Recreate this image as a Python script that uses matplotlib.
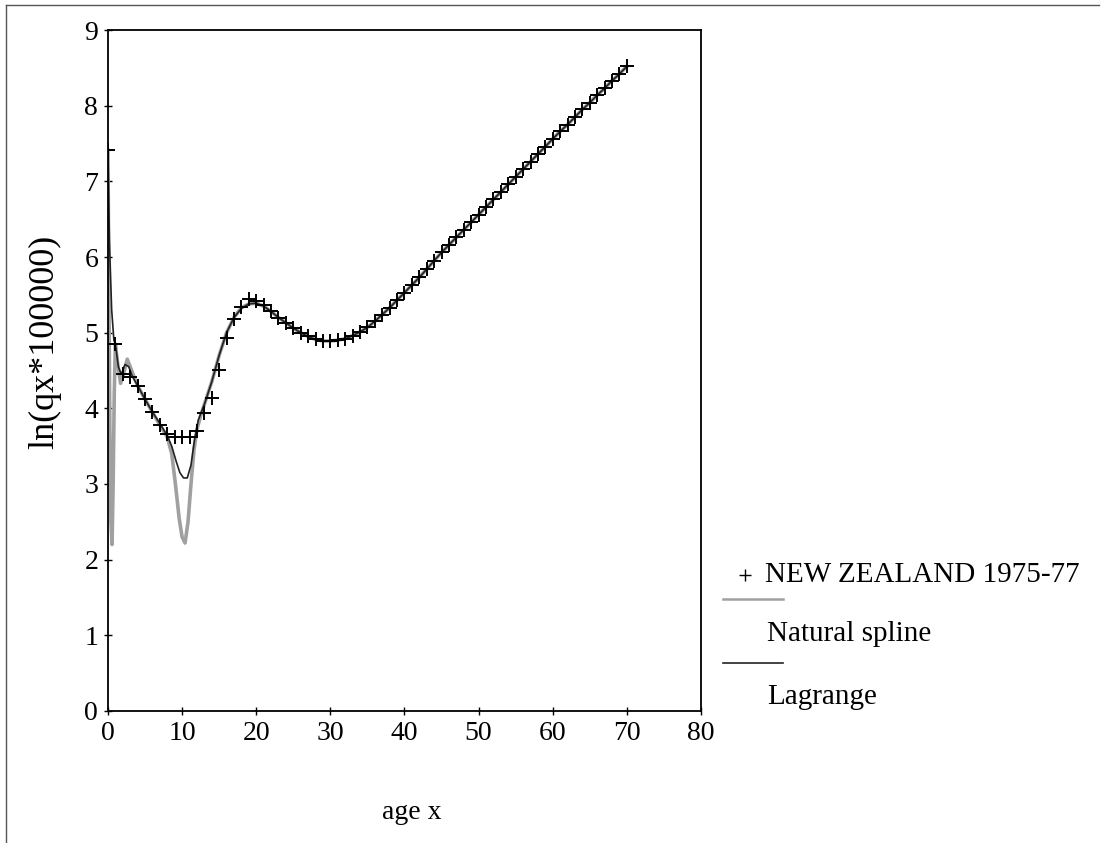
import numpy as np
import matplotlib.pyplot as plt
from matplotlib.lines import Line2D

# log mortality ln(qx*100000), single ages 0-70
ages = list(range(0, 71))
lnq = [7.41, 4.85, 4.45, 4.42, 4.30, 4.12, 3.95, 3.78, 3.66, 3.62,
       3.62, 3.62, 3.70, 3.94, 4.13, 4.50, 4.93, 5.18, 5.34, 5.44,
       5.42, 5.36, 5.28, 5.20, 5.13, 5.06, 5.00, 4.95, 4.91, 4.89,
       4.89, 4.90, 4.92, 4.96, 5.01, 5.07, 5.15, 5.24, 5.33, 5.43,
       5.53, 5.63, 5.73, 5.84, 5.95, 6.06, 6.16, 6.26, 6.36, 6.46,
       6.56, 6.66, 6.76, 6.86, 6.96, 7.06, 7.16, 7.26, 7.36, 7.46,
       7.56, 7.66, 7.75, 7.85, 7.95, 8.04, 8.14, 8.23, 8.33, 8.42,
       8.52]

# fitted curves over the young ages (both follow the data after 22)
spline_age = [0, 0.1, 0.25, 0.4, 0.55, 0.7, 0.85, 1.0, 1.3, 1.7, 2.1, 2.6,
              3.0, 3.5, 4, 5, 6, 7, 8, 8.6, 9.1, 9.6, 10.0, 10.4, 10.8,
              11.2, 11.6, 12.0, 12.5, 13, 14, 15, 16, 17, 18, 19, 20, 21]
spline_val = [7.41, 5.9, 3.8, 2.5, 2.2, 3.0, 4.2, 4.85, 4.6, 4.33, 4.45,
              4.65, 4.55, 4.42, 4.30, 4.12, 3.95, 3.78, 3.62, 3.40, 3.00,
              2.55, 2.30, 2.22, 2.50, 3.00, 3.45, 3.72, 3.90, 4.05, 4.35,
              4.70, 5.00, 5.20, 5.33, 5.38, 5.39, 5.35]

lag_age = [0, 0.2, 0.5, 0.8, 1.0, 1.4, 1.8, 2.3, 2.8, 3.3, 4, 5, 6, 7, 8,
           8.6, 9.2, 9.7, 10.2, 10.7, 11.2, 11.7, 12.2, 13, 14, 15, 16, 17,
           18, 19, 20, 21]
lag_val = [7.41, 6.2, 5.3, 4.9, 4.85, 4.55, 4.45, 4.58, 4.55, 4.42, 4.30,
           4.12, 3.95, 3.80, 3.64, 3.50, 3.30, 3.15, 3.08, 3.08, 3.25, 3.60,
           3.85, 4.05, 4.35, 4.70, 5.00, 5.20, 5.32, 5.38, 5.39, 5.35]

plt.rcParams['font.family'] = ['Liberation Serif', 'DejaVu Serif']

fig = plt.figure(figsize=(11.05, 8.43), dpi=100)
ax = fig.add_axes([0.0977, 0.1566, 0.5367, 0.8078])

ax.plot(spline_age + ages[22:], spline_val + lnq[22:], color='#a0a0a0', lw=2.6)
ax.plot(lag_age + ages[22:], lag_val + lnq[22:], color='#222222', lw=1.2)
ax.plot(ages, lnq, ls='none', marker='+', ms=10, mew=1.4, color='black')

ax.set_xlim(0, 80)
ax.set_ylim(0, 9)
ax.set_xticks(range(0, 81, 10))
ax.set_yticks(range(0, 10))
ax.tick_params(direction='inout', length=6, width=1, labelsize=20, pad=4)
for s in ax.spines.values():
    s.set_linewidth(1.3)

ax.set_ylabel('ln(qx*100000)', fontsize=26)
ax.yaxis.set_label_coords(-0.078, 0.542)
ax.set_xlabel('age x', fontsize=20)
ax.xaxis.set_label_coords(0.512, -0.13)

# legend laid out row by row at the right
fig.add_artist(Line2D([745 / 1105], [1 - 575 / 843], marker='+', ms=8, mew=1,
                      color='black', ls='none'))
fig.text(765 / 1105, 1 - 575 / 843, 'NEW ZEALAND 1975-77', fontsize=21, va='center')
fig.add_artist(Line2D([723 / 1105, 783 / 1105], [1 - 599 / 843] * 2,
                      color='#a0a0a0', lw=1.8))
fig.text(767 / 1105, 1 - 634 / 843, 'Natural spline', fontsize=21, va='center')
fig.add_artist(Line2D([723 / 1105, 783 / 1105], [1 - 663 / 843] * 2,
                      color='#222222', lw=1.2))
fig.text(767 / 1105, 1 - 697 / 843, 'Lagrange', fontsize=21, va='center')

# page border
fig.add_artist(Line2D([0.005, 0.995], [0.994, 0.994], color='#555555', lw=1))
fig.add_artist(Line2D([0.005, 0.005], [0.0, 0.994], color='#555555', lw=1))

fig.savefig('out.png', dpi=100)
